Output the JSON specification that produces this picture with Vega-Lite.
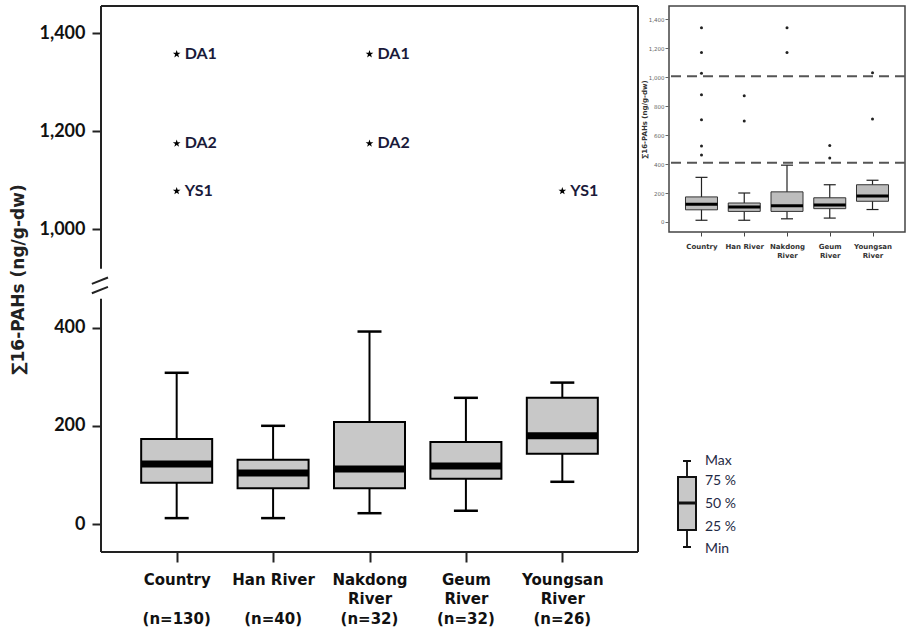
{
  "$schema": "https://vega.github.io/schema/vega-lite/v6.json",
  "padding": {"left": 9, "top": 5, "right": 0, "bottom": 0},
  "background": "white",
  "config": {"view": {"stroke": null}},
  "datasets": {
    "main": [
      {"cat": "Country", "n": "(n=130)", "min": 12, "q1": 84, "med": 122, "q3": 173, "max": 308},
      {"cat": "Han River", "n": "(n=40)", "min": 12, "q1": 73, "med": 104, "q3": 131, "max": 200},
      {"cat": "Nakdong|River", "n": "(n=32)", "min": 22, "q1": 73, "med": 112, "q3": 208, "max": 392},
      {"cat": "Geum|River", "n": "(n=32)", "min": 27, "q1": 92, "med": 118, "q3": 167, "max": 257},
      {"cat": "Youngsan|River", "n": "(n=26)", "min": 86, "q1": 143, "med": 180, "q3": 257, "max": 288}
    ],
    "stars": [
      {"cat": "Country", "site": "DA1", "v": 1357},
      {"cat": "Country", "site": "DA2", "v": 1175},
      {"cat": "Country", "site": "YS1", "v": 1078},
      {"cat": "Nakdong|River", "site": "DA1", "v": 1357},
      {"cat": "Nakdong|River", "site": "DA2", "v": 1175},
      {"cat": "Youngsan|River", "site": "YS1", "v": 1078}
    ],
    "inset": [
      {"cat": "Country", "min": 12, "q1": 84, "med": 122, "q3": 173, "max": 308},
      {"cat": "Han River", "min": 12, "q1": 73, "med": 104, "q3": 131, "max": 200},
      {"cat": "Nakdong|River", "min": 22, "q1": 73, "med": 112, "q3": 208, "max": 392},
      {"cat": "Geum|River", "min": 27, "q1": 92, "med": 118, "q3": 167, "max": 257},
      {"cat": "Youngsan|River", "min": 86, "q1": 143, "med": 180, "q3": 257, "max": 288}
    ],
    "outl": [
      {"cat": "Country", "v": 1340}, {"cat": "Country", "v": 1170}, {"cat": "Country", "v": 1026},
      {"cat": "Country", "v": 877}, {"cat": "Country", "v": 705}, {"cat": "Country", "v": 525},
      {"cat": "Country", "v": 463},
      {"cat": "Han River", "v": 871}, {"cat": "Han River", "v": 697},
      {"cat": "Nakdong|River", "v": 1340}, {"cat": "Nakdong|River", "v": 1170},
      {"cat": "Geum|River", "v": 527}, {"cat": "Geum|River", "v": 441},
      {"cat": "Youngsan|River", "v": 1030}, {"cat": "Youngsan|River", "v": 710}
    ],
    "legbox": [{"min": 8, "q1": 25, "med": 52, "q3": 78, "max": 94}],
    "legtxt": [
      {"lab": "Max", "v": 94}, {"lab": "75 %", "v": 74}, {"lab": "50 %", "v": 51},
      {"lab": "25 %", "v": 28}, {"lab": "Min", "v": 6}
    ]
  },
  "hconcat": [
    {
      "width": 537,
      "height": 546,
      "layer": [
        {
          "layer": [
            {
              "data": {"name": "main"},
              "mark": {"type": "rule", "stroke": "black", "strokeWidth": 2},
              "encoding": {
                "x": {"field": "cat", "type": "nominal", "sort": null,
                  "scale": {"type": "point", "padding": 0.785, "domain": ["Country", "Han River", "Nakdong|River", "Geum|River", "Youngsan|River"]},
                  "axis": {"title": null, "labelAngle": 0, "labelExpr": "split(datum.label, '|')", "domain": false, "grid": false,
                    "tickSize": 10, "tickWidth": 2, "tickColor": "#222", "labelFont": "DejaVu Sans", "labelFontWeight": "bold",
                    "labelFontSize": 15, "labelColor": "#111", "labelLineHeight": 19, "labelPadding": 10, "labelOverlap": false, "labelBaseline": "top"}},
                "y": {"field": "min", "type": "quantitative",
                  "scale": {"domain": [-57, 1055], "nice": false, "zero": false},
                  "axis": {"values": [0, 200, 400, 600, 800, 1000],
                    "labelExpr": "datum.value >= 600 ? format(datum.value + 400, ',') : format(datum.value, ',')",
                    "domain": false, "grid": false, "tickSize": 9, "tickWidth": 2, "tickColor": "#222",
                    "labelFont": "Lato", "labelFontWeight": "bold", "labelFontSize": 18, "labelColor": "#111", "labelPadding": 7,
                    "title": "∑16-PAHs (ng/g-dw)", "titleFont": "DejaVu Sans", "titleFontSize": 17, "titleFontWeight": "bold",
                    "titleColor": "#222", "titlePadding": 12}},
                "y2": {"field": "max"}
              }
            },
            {
              "data": {"name": "main"},
              "mark": {"type": "bar", "size": 71, "fill": "#c8c8c8", "stroke": "black", "strokeWidth": 2},
              "encoding": {
                "x": {"field": "cat", "type": "nominal", "sort": null},
                "y": {"field": "q1", "type": "quantitative"},
                "y2": {"field": "q3"}
              }
            },
            {
              "data": {"name": "main"},
              "mark": {"type": "tick", "size": 71, "thickness": 7, "color": "black", "opacity": 1},
              "encoding": {
                "x": {"field": "cat", "type": "nominal", "sort": null},
                "y": {"field": "med", "type": "quantitative"}
              }
            },
            {
              "data": {"name": "main"},
              "mark": {"type": "tick", "size": 24, "thickness": 2.5, "color": "black", "opacity": 1},
              "encoding": {
                "x": {"field": "cat", "type": "nominal", "sort": null},
                "y": {"field": "min", "type": "quantitative"}
              }
            },
            {
              "data": {"name": "main"},
              "mark": {"type": "tick", "size": 24, "thickness": 2.5, "color": "black", "opacity": 1},
              "encoding": {
                "x": {"field": "cat", "type": "nominal", "sort": null},
                "y": {"field": "max", "type": "quantitative"}
              }
            },
            {
              "data": {"name": "main"},
              "mark": {"type": "text", "baseline": "middle", "align": "center", "dy": 67, "font": "DejaVu Sans", "fontWeight": "bold", "fontSize": 15, "color": "#111"},
              "encoding": {
                "x": {"field": "cat", "type": "nominal", "sort": null},
                "y": {"datum": -57, "type": "quantitative"},
                "text": {"field": "n"}
              }
            },
            {
              "data": {"name": "stars"},
              "transform": [{"calculate": "datum.v >= 1000 ? datum.v - 400 : datum.v", "as": "disp"}],
              "mark": {"type": "point", "filled": true, "color": "black", "opacity": 1, "size": 65,
                "shape": "M0,-1L0.235,-0.324L0.951,-0.309L0.38,0.124L0.588,0.809L0,0.4L-0.588,0.809L-0.38,0.124L-0.951,-0.309L-0.235,-0.324Z"},
              "encoding": {
                "x": {"field": "cat", "type": "nominal", "sort": null},
                "y": {"field": "disp", "type": "quantitative"}
              }
            },
            {
              "data": {"name": "stars"},
              "transform": [{"calculate": "datum.v >= 1000 ? datum.v - 400 : datum.v", "as": "disp"}],
              "mark": {"type": "text", "align": "left", "baseline": "middle", "dx": 8, "font": "Lato", "fontWeight": "bold", "fontSize": 16, "color": "#1a1a3a"},
              "encoding": {
                "x": {"field": "cat", "type": "nominal", "sort": null},
                "y": {"field": "disp", "type": "quantitative"},
                "text": {"field": "site"}
              }
            }
          ]
        },
        {
          "data": {"values": [{}]},
          "layer": [
            {
              "mark": {"type": "rule", "stroke": "#222", "strokeWidth": 2},
              "encoding": {
                "x": {"datum": 0, "type": "quantitative", "scale": {"domain": [0, 1], "nice": false, "zero": false}, "axis": null},
                "x2": {"datum": 1},
                "y": {"datum": 1055, "type": "quantitative"}
              }
            },
            {
              "mark": {"type": "rule", "stroke": "#222", "strokeWidth": 2},
              "encoding": {
                "x": {"datum": 0, "type": "quantitative", "axis": null},
                "x2": {"datum": 1},
                "y": {"datum": -57, "type": "quantitative"}
              }
            },
            {
              "mark": {"type": "rule", "stroke": "#222", "strokeWidth": 2},
              "encoding": {
                "x": {"datum": 1, "type": "quantitative", "axis": null},
                "y": {"datum": -57, "type": "quantitative"},
                "y2": {"datum": 1055}
              }
            },
            {
              "mark": {"type": "rule", "stroke": "#222", "strokeWidth": 2},
              "encoding": {
                "x": {"datum": 0, "type": "quantitative", "axis": null},
                "y": {"datum": -57, "type": "quantitative"},
                "y2": {"datum": 459}
              }
            },
            {
              "mark": {"type": "rule", "stroke": "#222", "strokeWidth": 2},
              "encoding": {
                "x": {"datum": 0, "type": "quantitative", "axis": null},
                "y": {"datum": 520, "type": "quantitative"},
                "y2": {"datum": 1055}
              }
            },
            {
              "mark": {"type": "rule", "stroke": "#222", "strokeWidth": 2},
              "encoding": {
                "x": {"datum": -0.017, "type": "quantitative", "axis": null},
                "x2": {"datum": 0.013},
                "y": {"datum": 489, "type": "quantitative"},
                "y2": {"datum": 502}
              }
            },
            {
              "mark": {"type": "rule", "stroke": "#222", "strokeWidth": 2},
              "encoding": {
                "x": {"datum": -0.017, "type": "quantitative", "axis": null},
                "x2": {"datum": 0.013},
                "y": {"datum": 470, "type": "quantitative"},
                "y2": {"datum": 483}
              }
            }
          ]
        }
      ],
      "resolve": {"scale": {"x": "independent"}}
    },
    {
      "spacing": 195,
      "vconcat": [
        {
          "width": 236,
          "height": 226,
          "view": {"stroke": "#444", "strokeWidth": 1.5},
          "layer": [
            {
              "data": {"name": "inset"},
              "mark": {"type": "rule", "stroke": "#222", "strokeWidth": 1.2},
              "encoding": {
                "x": {"field": "cat", "type": "nominal", "sort": null,
                  "scale": {"type": "point", "padding": 0.76, "domain": ["Country", "Han River", "Nakdong|River", "Geum|River", "Youngsan|River"]},
                  "axis": {"title": null, "labelAngle": 0, "labelExpr": "split(datum.label, '|')", "domain": false, "grid": false,
                    "tickSize": 4, "tickColor": "#444", "labelFont": "DejaVu Sans", "labelFontWeight": "bold", "labelFontSize": 7,
                    "labelColor": "#333", "labelLineHeight": 9, "labelPadding": 6, "labelOverlap": false, "labelBaseline": "top"}},
                "y": {"field": "min", "type": "quantitative",
                  "scale": {"domain": [-69, 1490], "nice": false, "zero": false},
                  "axis": {"values": [0, 200, 400, 600, 800, 1000, 1200, 1400], "tickCount": 8, "labelExpr": "format(datum.value, ',')", "domain": false, "grid": false,
                    "tickSize": 4, "tickColor": "#666", "labelFont": "DejaVu Sans", "labelFontSize": 5.5, "labelColor": "#666",
                    "labelPadding": 1, "labelOverlap": false, "labelSeparation": 0, "title": "∑16-PAHs (ng/g-dw)", "titleFont": "DejaVu Sans", "titleFontSize": 7,
                    "titleFontWeight": "bold", "titleColor": "#333", "titlePadding": 1}},
                "y2": {"field": "max"}
              }
            },
            {
              "data": {"name": "inset"},
              "mark": {"type": "bar", "size": 32, "fill": "#bdbdbd", "stroke": "#333", "strokeWidth": 1},
              "encoding": {
                "x": {"field": "cat", "type": "nominal", "sort": null},
                "y": {"field": "q1", "type": "quantitative"},
                "y2": {"field": "q3"}
              }
            },
            {
              "data": {"name": "inset"},
              "mark": {"type": "tick", "size": 32, "thickness": 3, "color": "black", "opacity": 1},
              "encoding": {
                "x": {"field": "cat", "type": "nominal", "sort": null},
                "y": {"field": "med", "type": "quantitative"}
              }
            },
            {
              "data": {"name": "inset"},
              "mark": {"type": "tick", "size": 12, "thickness": 1.2, "color": "#222", "opacity": 1},
              "encoding": {
                "x": {"field": "cat", "type": "nominal", "sort": null},
                "y": {"field": "min", "type": "quantitative"}
              }
            },
            {
              "data": {"name": "inset"},
              "mark": {"type": "tick", "size": 12, "thickness": 1.2, "color": "#222", "opacity": 1},
              "encoding": {
                "x": {"field": "cat", "type": "nominal", "sort": null},
                "y": {"field": "max", "type": "quantitative"}
              }
            },
            {
              "data": {"name": "outl"},
              "mark": {"type": "circle", "size": 9, "color": "#222", "opacity": 1},
              "encoding": {
                "x": {"field": "cat", "type": "nominal", "sort": null},
                "y": {"field": "v", "type": "quantitative"}
              }
            },
            {
              "data": {"values": [{}]},
              "mark": {"type": "rule", "stroke": "#555", "strokeWidth": 2, "strokeDash": [10, 6]},
              "encoding": {"y": {"datum": 1005, "type": "quantitative"}}
            },
            {
              "data": {"values": [{}]},
              "mark": {"type": "rule", "stroke": "#555", "strokeWidth": 2, "strokeDash": [10, 6]},
              "encoding": {"y": {"datum": 408, "type": "quantitative"}}
            }
          ]
        },
        {
          "width": 100,
          "height": 100,
          "layer": [
            {
              "data": {"name": "legbox"},
              "mark": {"type": "rule", "stroke": "#222", "strokeWidth": 2},
              "encoding": {
                "x": {"datum": 18, "type": "quantitative", "scale": {"domain": [0, 100], "nice": false}, "axis": null},
                "y": {"field": "min", "type": "quantitative", "scale": {"domain": [0, 100], "nice": false}, "axis": null},
                "y2": {"field": "max"}
              }
            },
            {
              "data": {"name": "legbox"},
              "mark": {"type": "rect", "fill": "#c8c8c8", "stroke": "#111", "strokeWidth": 2},
              "encoding": {
                "x": {"datum": 9, "type": "quantitative", "axis": null},
                "x2": {"datum": 27},
                "y": {"field": "q1", "type": "quantitative", "axis": null},
                "y2": {"field": "q3"}
              }
            },
            {
              "data": {"name": "legbox"},
              "mark": {"type": "rule", "stroke": "#111", "strokeWidth": 3},
              "encoding": {
                "x": {"datum": 9, "type": "quantitative", "axis": null},
                "x2": {"datum": 27},
                "y": {"field": "med", "type": "quantitative", "axis": null}
              }
            },
            {
              "data": {"name": "legbox"},
              "mark": {"type": "rule", "stroke": "#111", "strokeWidth": 2},
              "encoding": {
                "x": {"datum": 14, "type": "quantitative", "axis": null},
                "x2": {"datum": 22},
                "y": {"field": "min", "type": "quantitative", "axis": null}
              }
            },
            {
              "data": {"name": "legbox"},
              "mark": {"type": "rule", "stroke": "#111", "strokeWidth": 2},
              "encoding": {
                "x": {"datum": 14, "type": "quantitative", "axis": null},
                "x2": {"datum": 22},
                "y": {"field": "max", "type": "quantitative", "axis": null}
              }
            },
            {
              "data": {"name": "legtxt"},
              "mark": {"type": "text", "align": "left", "baseline": "middle", "font": "Lato", "fontSize": 14, "color": "#1f2a44"},
              "encoding": {
                "x": {"datum": 36, "type": "quantitative", "axis": null},
                "y": {"field": "v", "type": "quantitative", "axis": null},
                "text": {"field": "lab"}
              }
            }
          ]
        }
      ]
    }
  ],
  "spacing": 0
}
